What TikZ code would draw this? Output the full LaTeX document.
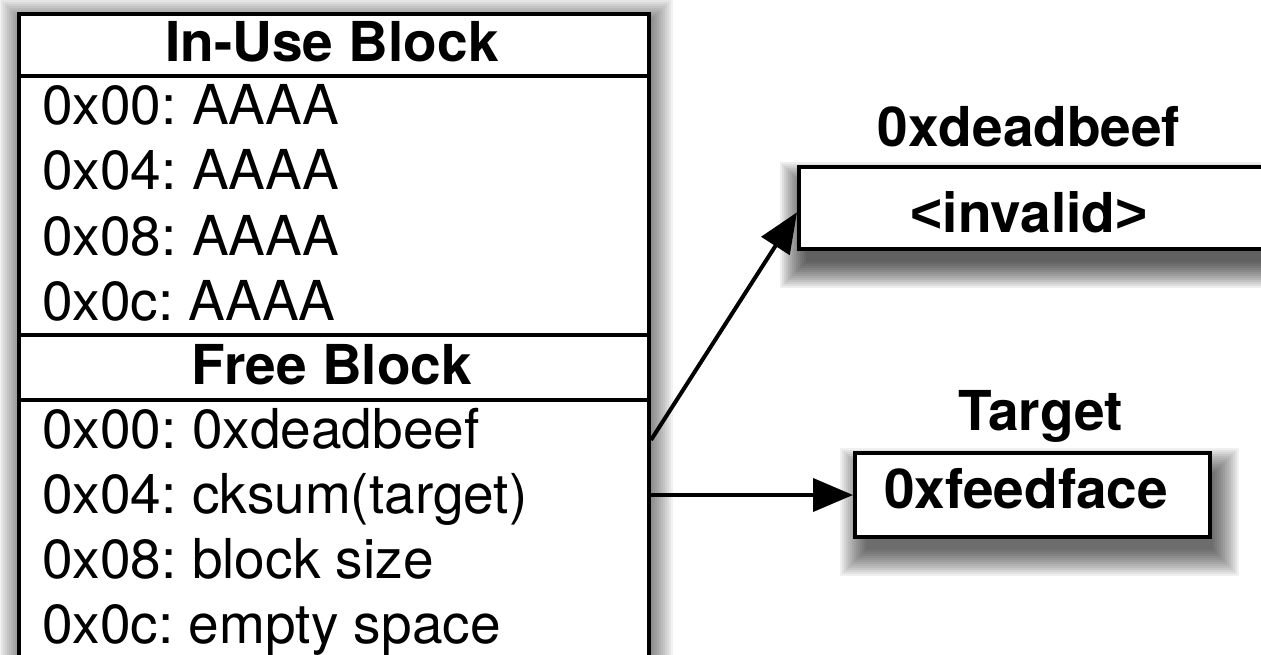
\documentclass[tikz,border=0pt]{standalone}
\usepackage{fontspec}
\setmainfont{TeX Gyre Heros}
\newfontfamily\libsans{Liberation Sans}
\usetikzlibrary{arrows.meta,calc}
\pgfdeclarelayer{bg}
\pgfsetlayers{bg,main}
\frenchspacing
\begin{document}
\begin{tikzpicture}[x=1pt,y=-1pt,
  txt/.style={font=\fontsize{55}{60}\selectfont, inner sep=0pt, anchor=base west},
  hdr/.style={font=\fontsize{55}{60}\selectfont\bfseries, inner sep=0pt, anchor=base},
  sepline/.style={line width=4pt},
  arr/.style={line width=4pt, -{Triangle[length=40pt,width=33pt]}},
  boxst/.style={draw, line width=4pt, fill=white, inner sep=0pt, anchor=north west}]
\useasboundingbox (0,0) rectangle (1261,655);
\clip (0,0) rectangle (1261,655);
% left block
\node[boxst, minimum width=630pt, minimum height=720pt] (blk) at (17,12) {};
\draw[sepline] ($(blk.north west)+(0,64)$) -- ($(blk.north east)+(0,64)$);
\draw[sepline] ($(blk.north west)+(0,323)$) -- ($(blk.north east)+(0,323)$);
\draw[sepline] ($(blk.north west)+(0,388)$) -- ($(blk.north east)+(0,388)$);
\node[hdr] (h1) at (332,62) {In-Use Block};
\node[txt] (r1) at (42,125) {0x00: AAAA};
\node[txt] (r2) at (42,190) {0x04: AAAA};
\node[txt] (r3) at (42,255) {0x08: AAAA};
\node[txt] (r4) at (42,320) {0x0c: AAAA};
\node[hdr] (h2) at (332,384) {Free Block};
\node[txt] (f1) at (42,448) {0x00: 0xdeadbeef};
\node[txt] (f2) at (42,513) {0x04: cksum(target)};
\node[txt] (f3) at (42,578) {0x08: block size};
\node[txt] (f4) at (42,643) {0x0c: empty space};
% right boxes
\node[boxst, minimum width=480pt, minimum height=82pt] (b1) at (797,165) {};
\node[hdr] (b1t) at (1029,233) {{\libsans <}invalid{\libsans >}};
\node[hdr] (l1) at (1029,147) {0xdeadbeef};
\node[boxst, minimum width=355pt, minimum height=84pt] (b2) at (853,451) {};
\node[hdr] (b2t) at (1026,508) {0xfeedface};
\node[hdr] (l2) at (1041,430) {Target};
% connectors
\coordinate (s1) at ($(blk.north east)+(0,428)$);
\coordinate (s2) at (blk.east |- b2.west);
\draw[arr] (s1) -- ($(b1.south west)!0.45!(b1.north west)$);
\draw[arr] (s2) -- (b2.west);
% shadows
\begin{pgfonlayer}{bg}
\foreach \n/\ox/\oy/\op in {blk/2/6/0.05, b1/3/17/0.065, b2/7/17/0.06} {
  \foreach \i in {1,...,14} {
    \pgfmathsetmacro{\e}{2*\i-8}
    \pgfmathsetmacro{\xa}{\ox-\e}
    \pgfmathsetmacro{\ya}{\e-\oy}
    \pgfmathsetmacro{\xb}{\ox+\e}
    \pgfmathsetmacro{\yb}{-\oy-\e}
    \fill[black,opacity=\op] ([xshift=\xa pt,yshift=\ya pt]\n.north west) rectangle ([xshift=\xb pt,yshift=\yb pt]\n.south east);
  }
}
\end{pgfonlayer}
\end{tikzpicture}
\end{document}
